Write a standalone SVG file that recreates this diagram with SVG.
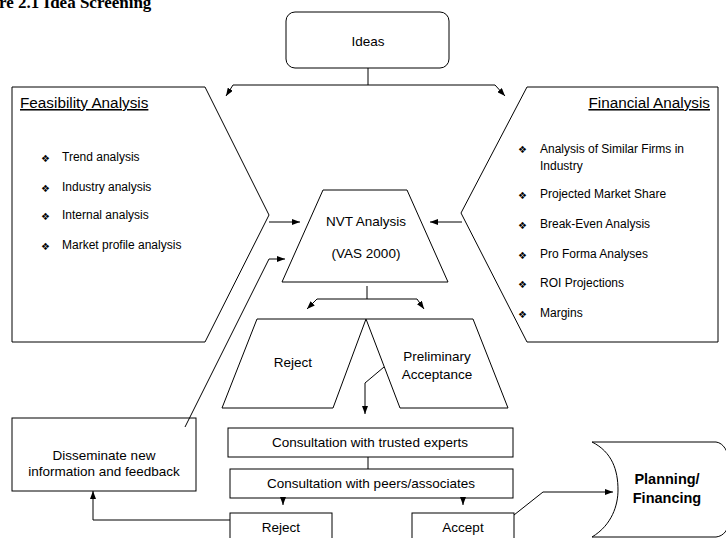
<svg xmlns="http://www.w3.org/2000/svg" width="726" height="538" viewBox="0 0 726 538">
  <style>
    .box { fill: #fff; stroke: #000; stroke-width: 1; }
    .ln { fill: none; stroke: #000; stroke-width: 1; }
    .arr { fill: none; stroke: #000; stroke-width: 1; marker-end: url(#ah); }
    .t { font-family: "Liberation Sans", Arial, sans-serif; font-size: 13.5px; fill: #000; }
    .c { text-anchor: middle; }
    .bl { font-family: "Liberation Sans", Arial, sans-serif; font-size: 12px; fill: #000; }
    .bu { font-family: "DejaVu Sans", sans-serif; font-size: 10px; fill: #000; }
    .hd { font-family: "Liberation Sans", Arial, sans-serif; font-size: 15.3px; text-decoration: underline; fill: #000; }
    .bold { font-family: "Liberation Sans", Arial, sans-serif; font-size: 14.5px; font-weight: bold; fill: #000; }
  </style>
  <defs>
    <marker id="ah" markerUnits="userSpaceOnUse" markerWidth="8" markerHeight="6" refX="8" refY="3" orient="auto">
      <path d="M0,0 L8,3 L0,6 z" fill="#000"/>
    </marker>
  </defs>
  <rect width="726" height="538" fill="#fff"/>

  <text x="-1" y="8" font-family="Liberation Serif, Times New Roman, serif" font-size="17" font-weight="bold">re 2.1 Idea Screening</text>

  <g id="ideas">
    <rect class="box" x="286" y="12" width="163" height="56" rx="9"/>
    <text class="t c" x="368" y="46" font-size="14.5">Ideas</text>
  </g>

  <g id="feasibility">
    <path class="box" d="M12,87 L205,87 L269,215 L205,342 L12,342 Z"/>
    <text class="hd" x="20" y="108">Feasibility Analysis</text>
    <g class="bu">
      <text x="41" y="162">❖︎</text>
      <text x="41" y="192">❖︎</text>
      <text x="41" y="220">❖︎</text>
      <text x="41" y="250">❖︎</text>
    </g>
    <text class="bl" x="62" y="161">Trend analysis</text>
    <text class="bl" x="62" y="191">Industry analysis</text>
    <text class="bl" x="62" y="219">Internal analysis</text>
    <text class="bl" x="62" y="249">Market profile analysis</text>
  </g>

  <g id="financial">
    <path class="box" d="M527,87 L718,87 L718,342 L527,342 L461,213 Z"/>
    <text class="hd" x="710" y="108" text-anchor="end">Financial Analysis</text>
    <g class="bu">
      <text x="518" y="153">❖︎</text>
      <text x="518" y="199">❖︎</text>
      <text x="518" y="229">❖︎</text>
      <text x="518" y="259">❖︎</text>
      <text x="518" y="288">❖︎</text>
      <text x="518" y="318">❖︎</text>
    </g>
    <text class="bl" x="540" y="153">Analysis of Similar Firms in</text>
    <text class="bl" x="540" y="170">Industry</text>
    <text class="bl" x="540" y="198">Projected Market Share</text>
    <text class="bl" x="540" y="228">Break-Even Analysis</text>
    <text class="bl" x="540" y="258">Pro Forma Analyses</text>
    <text class="bl" x="540" y="287">ROI Projections</text>
    <text class="bl" x="540" y="317">Margins</text>
  </g>

  <g id="nvt">
    <path class="box" d="M323,190 L407,190 L448,282 L282,282 Z"/>
    <text class="t c" x="366" y="226">NVT Analysis</text>
    <text class="t c" x="366" y="258">(VAS 2000)</text>
  </g>

  <g id="reject1">
    <path class="box" d="M257,319 L366,319 L333,408 L222,408 Z"/>
    <text class="t c" x="293" y="367">Reject</text>
  </g>

  <g id="preliminary">
    <path class="box" d="M366,319 L473,319 L508,408 L400,408 Z"/>
    <text class="t c" x="437" y="361">Preliminary</text>
    <text class="t c" x="437" y="379">Acceptance</text>
  </g>

  <g id="experts">
    <rect class="box" x="228" y="428" width="285" height="29"/>
    <text class="t c" x="370" y="447">Consultation with trusted experts</text>
  </g>

  <g id="peers">
    <rect class="box" x="230" y="469" width="283" height="29"/>
    <text class="t c" x="371" y="488">Consultation with peers/associates</text>
  </g>

  <g id="reject2">
    <rect class="box" x="230" y="513" width="102" height="30"/>
    <text class="t c" x="281" y="532">Reject</text>
  </g>

  <g id="accept">
    <rect class="box" x="412" y="513" width="102" height="30"/>
    <text class="t c" x="463" y="532">Accept</text>
  </g>

  <g id="disseminate">
    <rect class="box" x="12" y="418" width="184" height="73"/>
    <text class="t c" x="104" y="460">Disseminate new</text>
    <text class="t c" x="104" y="476">information and feedback</text>
  </g>

  <g id="planning">
    <path class="box" d="M592,442 L716,442 C724,443 728,452 730,462 L730,520 C728,530 724,536 716,537 L592,537 C612,525 618,505 618,490 C618,470 612,452 592,442 Z"/>
    <text class="bold c" x="667" y="484">Planning/</text>
    <text class="bold c" x="667" y="503">Financing</text>
  </g>

  <g id="connectors">
    <!-- Ideas splits to both analyses -->
    <path class="ln" d="M368,68 V85 M233,85 H495"/>
    <path class="arr" d="M233,85 L226,96"/>
    <path class="arr" d="M495,85 L505,96"/>
    <!-- analyses feed NVT -->
    <path class="arr" d="M269,222 H300"/>
    <path class="arr" d="M462,222 H430"/>
    <!-- feedback loop into NVT -->
    <path class="arr" d="M185,427 L269,259 H285"/>
    <!-- NVT splits -->
    <path class="ln" d="M367,286 V299 M317,299 H417"/>
    <path class="arr" d="M317,299 L307,309"/>
    <path class="arr" d="M417,299 L424,309"/>
    <!-- preliminary acceptance to experts -->
    <path class="arr" d="M384,367 L365,383 V414"/>
    <!-- experts to peers -->
    <path class="ln" d="M368,457 V469"/>
    <!-- peers to reject / accept -->
    <path class="arr" d="M283,498 V505"/>
    <path class="arr" d="M463,498 V505"/>
    <!-- reject back to disseminate -->
    <path class="arr" d="M230,520 H93 V491"/>
    <!-- accept to planning -->
    <path class="arr" d="M514,515 L543,492 H613"/>
  </g>
</svg>
